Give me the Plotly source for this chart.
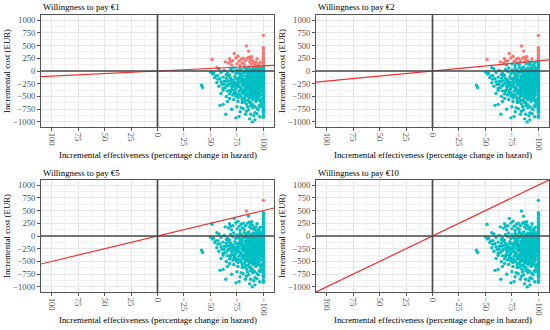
import plotly.graph_objects as go

# ---- data ----
wtp_values = [1, 2, 5, 10]
panel_titles = ["Willingness to pay €1", "Willingness to pay €2",
                "Willingness to pay €5", "Willingness to pay €10"]

x_tickvals = [100, 75, 50, 25, 0, -25, -50, -75, -100]
x_ticktext = ["100", "75", "50", "25", "0", "−25", "−50", "−75", "−100"]
y_tickvals = [1000, 750, 500, 250, 0, -250, -500, -750, -1000]
y_ticktext = ["1000", "750", "500", "250", "0", "−250", "−500", "−750", "−1000"]

# points above zero (mostly "red" at low WTP)
upper_eff = [-51.5, -56, -64, -67, -68, -69, -70, -72.5, -74, -75, -77, -78, -79, -80,
             -82, -84, -85, -86, -86.5, -87, -88, -88.5, -89, -90, -91, -92, -93, -94,
             -95, -96, -97, -83, -81, -76, -71]
upper_cost = [230, 65, 180, 155, 240, 190, 120, 345, 255, 140, 190, 110, 230, 160,
              130, 490, 250, 390, 270, 180, 230, 140, 280, 200, 150, 120, 180, 240,
              130, 110, 170, 200, 250, 290, 200]

# band close to zero
band_eff = [-50, -52, -58, -60, -63, -66, -69, -71, -72, -74, -75, -77, -78, -79, -80,
            -81, -82, -83, -84, -85, -85.5, -86, -87, -87.5, -88, -89, -89.5, -90, -90.5,
            -91, -91.5, -92, -92.5, -93, -93.5, -94, -94.5, -95, -95.5, -96, -96.5, -97,
            -97.5, -98, -98]
band_cost = [-20, -60, 40, -30, 10, -40, 30, -10, 60, -50, 20, -20, 50, -60, 10,
             -30, 70, -10, 40, -50, 0, 80, -20, 30, -70, 10, -40, 60, -10,
             20, -60, 40, -30, 0, 70, -20, 30, -50, 10, 50, -10, -40,
             20, -70, 60]

# dense cloud
cloud_eff = [-55, -62, -68, -73, -77, -80, -83, -85, -87, -89, -91, -92, -94, -95, -97,
             -57, -65, -70, -74, -78, -81, -84, -86, -88, -90, -92, -93, -95, -96, -98,
             -60, -67, -72, -76, -79, -82, -84.5, -87, -89, -90.5, -92, -94, -95.5, -97,
             -63, -69, -73, -77, -80, -83, -85, -87.5, -89, -91, -93, -94.5, -96, -97.5,
             -66, -71, -75, -78, -81, -84, -86, -88, -90, -92, -93.5, -95, -96.5,
             -62, -70, -74, -79, -82, -85, -87, -89, -91, -93, -94, -96, -97.5,
             -68, -73, -77, -80, -83, -86, -88, -90, -92, -94, -95.5, -97,
             -72, -76, -81, -84, -87, -89, -91, -93, -95, -96.5,
             -65, -74, -79, -83, -86, -88.5, -91, -93.5, -96]
cloud_cost = [-95, -120, -80, -110, -130, -90, -105, -125, -85, -115, -100, -135, -90, -110, -120,
              -160, -140, -175, -150, -130, -165, -145, -170, -155, -135, -180, -150, -160, -140, -170,
              -210, -190, -220, -200, -185, -215, -195, -225, -205, -180, -200, -230, -190, -210,
              -260, -240, -270, -235, -255, -245, -275, -250, -230, -265, -245, -255, -270, -240,
              -290, -310, -300, -320, -285, -305, -295, -315, -300, -290, -310, -320, -295,
              -340, -360, -355, -345, -370, -350, -335, -365, -350, -340, -360, -345, -370,
              -390, -410, -400, -420, -395, -405, -415, -390, -400, -420, -410, -395,
              -440, -460, -450, -445, -465, -440, -455, -470, -450, -445,
              -500, -490, -510, -495, -505, -520, -490, -510, -500]

# additional cloud points
dense_eff = [-76, -78, -80, -81, -82, -83, -84, -85, -86, -86.5, -87, -88, -88.5, -89, -89.5,
             -90, -90.5, -91, -91.5, -92, -92.5, -93, -93.5, -94, -94.5, -95, -95.5, -96,
             -96.5, -97, -97.5, -98, -98, -97.5, -97.5, -97, -95, -93, -91, -89, -87, -85,
             -83, -81, -79, -77, -75, -73, -71, -69, -67, -65, -63, -61, -59, -57, -64,
             -66, -68, -70, -72, -74, -76, -78, -80, -82, -84, -86, -88, -90, -92,
             -96, -98, -94, -88, -84, -71, -69,
             -67, -65, -62, -60, -58, -56, -54, -53,
             -85, -87, -89, -91, -93, -95, -97, -84, -86, -88, -90, -92, -94, -96, -98,
             -83, -85, -87, -89, -91, -93, -95, -97, -82, -80, -78, -76, -74, -72, -70]
dense_cost = [-30, -70, -140, -190, -260, -330, -100, -380, -230, -160, -60, -300, -440, -120, -210,
              -350, -90, -280, -170, -400, -250, -130, -320, -60, -190, -420, -270, -150,
              -340, -230, -100, -300, -180, -400, -50, -470, -520, -560, -530, -480, -520, -470,
              -430, -390, -350, -300, -260, -220, -180, -140, -100, -70, -200, -260, -150, -90, -330,
              -390, -450, -300, -380, -440, -520, -470, -560, -610, -650, -580, -620, -660, -700,
              -680, -560, -740, -850, -790, -470, -410,
              -260, -200, -380, -440, -300, -230, -130, -40,
              -20, -110, -260, -330, -420, -200, -300, -180, -310, -140, -240, -170, -350, -430, -240,
              -270, -140, -370, -60, -120, -230, -340, -150, -40, -240, -370, -160, -330, -270, -230]

# lower tail and outliers
tail_eff = [-59, -62, -64.5, -70, -74, -77, -79, -81, -83, -85, -86, -89.5, -91, -92,
            -94, -95, -96.5, -97, -98, -93, -90, -87, -84, -80, -76, -72, -68, -88,
            -82, -95, -97, -78, -87, -92, -75, -66, -90, -41.5, -42.5]
tail_cost = [-675, -655, -850, -750, -920, -895, -720, -740, -850, -700, -760, -1000, -880, -820,
             -840, -760, -900, -700, -650, -600, -560, -620, -580, -620, -600, -560, -540, -680,
             -540, -560, -600, -800, -940, -960, -700, -600, -720, -280, -325]

# column at -100 % effectiveness
col_eff = [-100] * 64
col_cost = [700, 460, 430, 400, 350, 300, 260, 220, 190, 160, 130, 110,
            90, 70, 50, 30, 10, -10, -30, -50, -70, -90, -110, -130, -150, -170,
            -190, -210, -230, -250, -270, -290, -310, -330, -350, -370, -390, -410,
            -430, -450, -470, -490, -510, -530, -550, -570, -590, -610, -630, -650,
            -670, -690, -710, -730, -750, -770, -790, -810, -870, -895, -910,
            -120, -280, -440]

effect = upper_eff + band_eff + cloud_eff + dense_eff + tail_eff + col_eff
cost = upper_cost + band_cost + cloud_cost + dense_cost + tail_cost + col_cost

# ---- layout geometry ----
W, H = 550, 330
panels = [  # (left, right, top, bottom) in pixels
    (41, 274, 15, 127),
    (316, 549, 15, 127),
    (41, 274, 180, 292),
    (316, 549, 180, 292),
]
FONT = "Liberation Serif"
FS = 8.6
RED = "#F8766D"
TEAL = "#00BFC4"

fig = go.Figure()
layout = dict(
    width=W, height=H, margin=dict(l=0, r=0, t=0, b=0),
    paper_bgcolor="white", plot_bgcolor="white", showlegend=False,
    font=dict(family=FONT, size=FS, color="#4D4D4D"),
)
annotations = []
for i, (wtp, title, (l, r, t, b)) in enumerate(zip(wtp_values, panel_titles, panels)):
    n = "" if i == 0 else str(i + 1)
    xa, ya = "x" + n, "y" + n
    colors = [RED if c > -wtp * e else TEAL for e, c in zip(effect, cost)]
    fig.add_trace(go.Scatter(x=effect, y=cost, mode="markers", xaxis=xa, yaxis=ya,
                             marker=dict(size=3.4, color=colors, line=dict(width=0)),
                             hoverinfo="skip"))
    fig.add_trace(go.Scatter(x=[-130, 130], y=[130 * wtp, -130 * wtp], mode="lines",
                             xaxis=xa, yaxis=ya, line=dict(color="#F03030", width=1.2),
                             hoverinfo="skip"))
    fig.add_trace(go.Scatter(x=[-130, 130], y=[0, 0], mode="lines", xaxis=xa, yaxis=ya,
                             line=dict(color="#4A4A4A", width=1.7), hoverinfo="skip"))
    fig.add_trace(go.Scatter(x=[0, 0], y=[-1300, 1300], mode="lines", xaxis=xa, yaxis=ya,
                             line=dict(color="#4A4A4A", width=1.7), hoverinfo="skip"))
    common = dict(showline=True, mirror=True, linecolor="#555555", linewidth=1,
                  ticks="outside", ticklen=3, tickcolor="#555555",
                  gridcolor="#E6E6E6", gridwidth=0.8, zeroline=False, automargin=False,
                  tickfont=dict(family=FONT, size=FS, color="#4D4D4D"))
    layout["xaxis" + n] = dict(
        domain=[l / W, r / W], anchor=ya, range=[110, -110],
        tickmode="array", tickvals=x_tickvals, ticktext=x_ticktext, tickangle=90,
        minor=dict(tickmode="array", tickvals=[112.5 - 25 * k for k in range(10)],
                   showgrid=True, gridcolor="#F2F2F2", gridwidth=0.5, ticks=""),
        **common)
    layout["yaxis" + n] = dict(
        domain=[1 - b / H, 1 - t / H], anchor=xa, range=[-1100, 1100],
        tickmode="array", tickvals=y_tickvals, ticktext=y_ticktext,
        minor=dict(tickmode="array", tickvals=[1125 - 250 * k for k in range(10)],
                   showgrid=True, gridcolor="#F2F2F2", gridwidth=0.5, ticks=""),
        **common)
    annotations.append(dict(text=title, x=l / W, y=1 - (t - 7.5) / H, xref="paper", yref="paper",
                            xanchor="left", yanchor="middle", showarrow=False,
                            font=dict(family=FONT, size=FS + 0.2, color="black")))
    annotations.append(dict(text="Incremental effectiveness (percentage change in hazard)",
                            x=(l + r) / 2 / W, y=1 - (b + 28) / H, xref="paper", yref="paper",
                            xanchor="center", yanchor="middle", showarrow=False,
                            font=dict(family=FONT, size=FS + 0.2, color="black")))
    annotations.append(dict(text="Incremental cost (EUR)", textangle=-90,
                            x=(l - 34) / W, y=1 - (t + b) / 2 / H, xref="paper", yref="paper",
                            xanchor="center", yanchor="middle", showarrow=False,
                            font=dict(family=FONT, size=FS + 0.2, color="black")))
layout["annotations"] = annotations
fig.update_layout(**layout)
fig.write_html("out.html", config={"displayModeBar": False},
               post_script="document.body.style.margin='0';document.body.style.padding='0';")
